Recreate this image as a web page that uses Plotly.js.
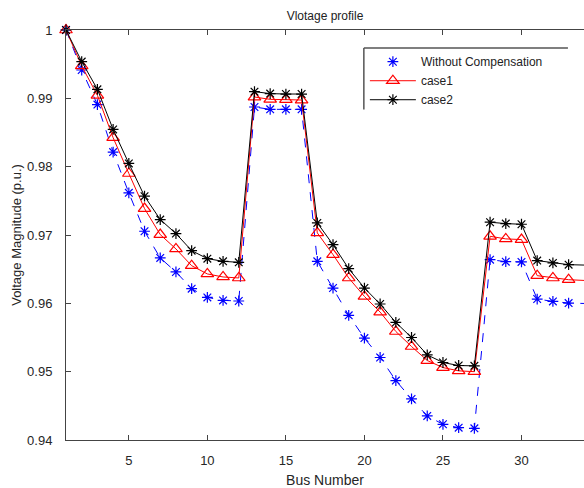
<!DOCTYPE html>
<html>
<head>
<meta charset="utf-8">
<script src="https://cdn.plot.ly/plotly-3.0.1.min.js"></script>
<style>html,body{margin:0;padding:0;background:#fff;}#chart{width:584px;height:488px;}</style>
</head>
<body>
<div id="chart"></div>
<script>
const busNumbers = [1,2,3,4,5,6,7,8,9,10,11,12,13,14,15,16,17,18,19,20,21,22,23,24,25,26,27,28,29,30,31,32,33,34];

const withoutCompensation = [1.0,0.99415,0.98908,0.98213,0.97617,0.97055,0.96664,0.96459,0.96214,0.96087,0.96043,0.96034,
  0.98873,0.98839,0.98839,0.98839,0.96615,0.96224,0.95825,0.95491,0.95207,0.94870,0.94601,0.94352,0.94230,0.94180,0.94171,
  0.96639,0.96610,0.96606,0.96063,0.96028,0.96004,0.95998];

const case1 = [1.0,0.99474,0.99044,0.98424,0.97900,0.97387,0.97006,0.96796,0.96551,0.96430,0.96386,0.96371,
  0.99019,0.98985,0.98981,0.98975,0.97031,0.96713,0.96371,0.96101,0.95872,0.95588,0.95368,0.95163,0.95060,0.95012,0.95000,
  0.96981,0.96943,0.96933,0.96405,0.96371,0.96346,0.96335];

const case2 = [1.0,0.99538,0.99132,0.98545,0.98047,0.97568,0.97226,0.97021,0.96771,0.96654,0.96615,0.96600,
  0.99098,0.99069,0.99063,0.99063,0.97177,0.96859,0.96507,0.96224,0.95990,0.95720,0.95500,0.95246,0.95134,0.95090,0.95085,
  0.97187,0.97167,0.97157,0.96625,0.96591,0.96566,0.96560];

const seriesNames = ["Without Compensation", "case1", "case2"];
const xTickVals = [5,10,15,20,25,30];
const yTickVals = [0.94,0.95,0.96,0.97,0.98,0.99,1.0];
const yTickText = ["0.94","0.95","0.96","0.97","0.98","0.99","1"];

const FONT = "Liberation Sans, Arial, Helvetica, sans-serif";
const blueMarker = {symbol: "asterisk-open", size: 9, color: "#0000ff", line: {color: "#0000ff", width: 1.2}};

const traces = [
  {
    x: busNumbers, y: withoutCompensation, name: seriesNames[0], type: "scatter", mode: "lines+markers",
    line: {color: "#0000ff", width: 1, dash: "dash"},
    marker: blueMarker, showlegend: false,
    cliponaxis: false
  },
  {
    x: [null], y: [null], name: seriesNames[0], type: "scatter", mode: "markers",
    marker: blueMarker, showlegend: true
  },
  {
    x: busNumbers, y: case1, name: seriesNames[1], type: "scatter", mode: "lines+markers",
    line: {color: "#ff0000", width: 1},
    marker: {symbol: "triangle-up-open", size: 11, color: "#ff0000", line: {color: "#ff0000", width: 1.2}},
    cliponaxis: false
  },
  {
    x: busNumbers, y: case2, name: seriesNames[2], type: "scatter", mode: "lines+markers",
    line: {color: "#000000", width: 1},
    marker: {symbol: "asterisk-open", size: 9, color: "#000000", line: {color: "#000000", width: 1.2}},
    cliponaxis: false
  }
];

const layout = {
  width: 584, height: 488,
  margin: {l: 66, r: 0, t: 30, b: 48, pad: 0},
  paper_bgcolor: "#ffffff", plot_bgcolor: "#ffffff",
  font: {family: FONT, size: 13, color: "#262626"},
  title: {text: "Vlotage profile", font: {family: FONT, size: 12, color: "#222"},
          x: 0.5, xref: "paper", y: 1 - 16/488, yref: "container", yanchor: "middle"},
  showlegend: true,
  legend: {x: 0.577, y: 0.958, xanchor: "left", yanchor: "top", bgcolor: "rgba(255,255,255,0)",
           borderwidth: 0, tracegroupgap: 0, font: {family: FONT, size: 12, color: "#222"}, itemwidth: 46},
  xaxis: {
    range: [1, 33.98], showgrid: false, zeroline: false,
    showline: true, linecolor: "#444", linewidth: 1, mirror: "ticks",
    ticks: "inside", ticklen: 5, tickcolor: "#444",
    tickvals: xTickVals, ticklabelstandoff: 8,
    tickfont: {family: FONT, size: 13, color: "#262626"},
    title: {text: "Bus Number", font: {family: FONT, size: 14, color: "#262626"}, standoff: 8}
  },
  yaxis: {
    range: [0.94, 1.0], showgrid: false, zeroline: false,
    showline: true, linecolor: "#444", linewidth: 1, mirror: false,
    ticks: "inside", ticklen: 5, tickcolor: "#444",
    tickvals: yTickVals, ticktext: yTickText, ticklabelstandoff: 10,
    tickfont: {family: FONT, size: 13, color: "#262626"},
    title: {text: "Voltage Magnitude (p.u.)", font: {family: FONT, size: 13, color: "#262626"}, standoff: 2}
  },
  shapes: [
    {type: "line", xref: "paper", yref: "paper", x0: 0.575, x1: 0.969, y0: 0.956, y1: 0.956, line: {color: "#555", width: 1.5}},
    {type: "line", xref: "paper", yref: "paper", x0: 0.575, x1: 0.575, y0: 0.956, y1: 0.806, line: {color: "#555", width: 1.5}}
  ]
};

Plotly.newPlot("chart", traces, layout, {displayModeBar: false, staticPlot: true});
</script>
</body>
</html>
